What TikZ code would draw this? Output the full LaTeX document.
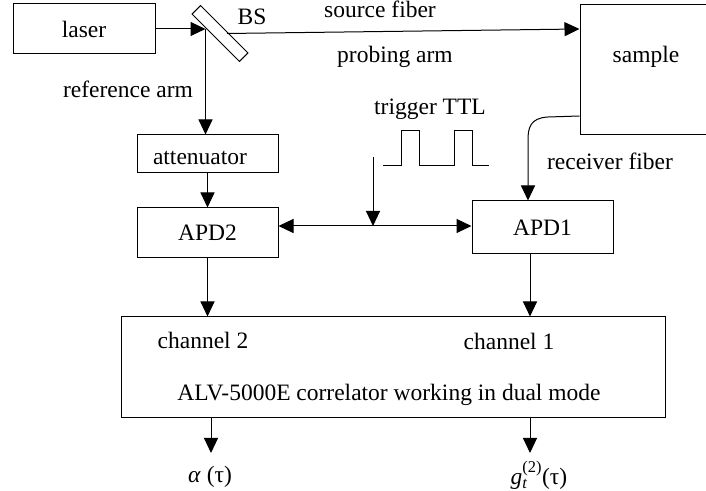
\documentclass[tikz,border=0pt]{standalone}
\usepackage{amsmath}
\usepackage{fontspec}
\setmainfont{Liberation Serif}
\usetikzlibrary{arrows.meta}
\begin{document}
\begin{tikzpicture}[line width=1bp,
  >={Triangle[length=15bp,width=14bp]},
  font=\fontsize{23.5bp}{27bp}\selectfont,
  box/.style={draw,rectangle,inner sep=0pt},
  lbl/.style={anchor=base,inner sep=0pt}]
		%%
  \clip (0bp,0bp) rectangle (706bp,491bp);
  \node (laser) at (84bp,462bp) [box,minimum width=142bp,minimum height=50bp] {laser};
  \node (BS) at (220bp,457.5bp) [box,rotate=-45,minimum width=67bp,minimum height=12bp] {};
  \node (sample) at (646bp,421bp) [box,minimum width=132bp,minimum height=130bp] {};
  \node (atten) at (207.5bp,337bp) [box,minimum width=141bp,minimum height=38bp] {};
  \node (APD2) at (207.5bp,258bp) [box,minimum width=141bp,minimum height=50bp] {APD2};
  \node (APD1) at (542.5bp,263.5bp) [box,minimum width=141bp,minimum height=53bp] {APD1};
  \node (corr) at (393bp,123.5bp) [box,minimum width=544bp,minimum height=101bp] {};
  \coordinate (bshit) at (205.5bp,462bp);
  \coordinate (ttltop) at (373bp,334bp);
  \coordinate (trig) at (373bp,265bp);
  \coordinate (rxbend) at (528bp,351bp);
  \coordinate (ch2) at (211bp,38bp);
  \coordinate (ch1) at (530bp,38bp);
  %% texts
  \node [lbl] (bslabel) at (252bp,466bp) {BS};
  \node [lbl] (srcfiber) at (380bp,473bp) {source fiber};
  \node [lbl] (probing) at (395bp,428bp) {probing arm};
  \node [lbl] (samplelabel) at (646bp,428bp) {sample};
  \node [lbl] (refarm) at (128bp,393bp) {reference arm};
  \node [lbl] (attenlabel) at (200bp,326bp) {attenuator};
  \node [lbl] (ttl) at (430bp,376bp) {trigger TTL};
  \node [lbl] (rxfiber) at (610bp,321bp) {receiver fiber};
  \node (chan2) at (203bp,151bp) {channel 2};
  \node (chan1) at (509bp,150bp) {channel 1};
  \node (alv) at (389bp,96bp) {ALV-5000E correlator working in dual mode};
  \node (alpha) at (210bp,14bp) {\textit{α} (τ)};
  \node (gt) at (539bp,16bp) {\textit{g}$_{\textit{t}}^{\text{(2)}}$(τ)};
  %% beams
  \draw [->] (laser.east |- bshit) -- (bshit);
  \draw [->] (BS.center -| 227bp,0) -- (sample.west |- bshit);
  \draw [->] (bshit) -- (bshit |- atten.north);
  \draw [->] (sample.west |- 0,375bp) -- (548bp,374bp) .. controls (530bp,373bp) and (528bp,363bp) .. (rxbend) -- (rxbend |- APD1.north);
  %% trigger
  \draw (383bp,325bp) -- (401bp,325bp) -- (401bp,360bp) -- (419bp,360bp) -- (419bp,325bp) -- (454bp,325bp) -- (454bp,360bp) -- (472bp,360bp) -- (472bp,325bp) -- (489bp,325bp);
  \draw [->] (ttltop) -- (trig);
  \draw [<->] (APD2.east |- trig) -- (APD1.west |- trig);
  %% detectors to correlator
  \draw [->] (atten.south) -- (APD2.north);
  \draw [->] (APD2.south) -- (APD2.south |- corr.north);
  \draw [->] (APD1.south -| ch1) -- (ch1 |- corr.north);
  \draw [->] (corr.south -| ch2) -- (ch2);
  \draw [->] (corr.south -| ch1) -- (ch1);
		%
	\end{tikzpicture}
\end{document}
